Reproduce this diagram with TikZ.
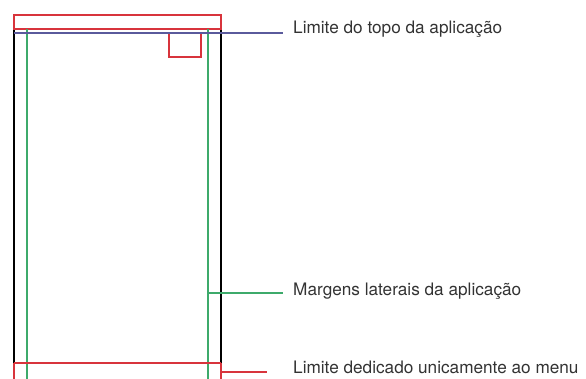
\documentclass[tikz,border=0pt]{standalone}
\usepackage{fontspec}
\setmainfont{TeX Gyre Heros}
\usepackage{tikz}
\usetikzlibrary{calc}

\definecolor{limred}{HTML}{D8343C}
\definecolor{limgreen}{HTML}{3DAA6B}
\definecolor{limblue}{HTML}{5A5A9C}
\definecolor{labelgray}{HTML}{333333}

\begin{document}
\begin{tikzpicture}[x=1pt, y=-1pt,
frame/.style={draw=black, line width=1.8pt},
redline/.style={draw=limred, line width=1.8pt},
greenline/.style={draw=limgreen, line width=1.8pt},
blueline/.style={draw=limblue, line width=1.8pt},
label/.style={anchor=base west, inner sep=0pt, text=labelgray, font=\fontsize{17.2}{20}\selectfont}]

\useasboundingbox (0,0) rectangle (586,379);

\coordinate (tl) at (14,29);
\coordinate (tr) at (221,29);
\coordinate (bl) at (14,363);
\coordinate (br) at (221,363);

% moldura do telefone
\draw[frame] (tl) -- (bl);
\draw[frame] (tr) -- (br);

% barra superior e icone
\draw[redline] (14,15) rectangle (221,29);
\draw[redline] (169,33) rectangle (201,57);

% margens laterais
\draw[greenline] (27,29) -- (27,379);
\draw[greenline] (208,29) -- (208,379);

% zona do menu
\draw[redline] (bl) -- (br);
\draw[redline] (bl) -- (14,379);
\draw[redline] (br) -- (221,379);

\node[label]	(top)	at (293,33.5)	{Limite do topo da aplicação};
\node[label]	(marg)	at (293,295)	{Margens laterais da aplicação};
\node[label]	(menu)	at (293,373)	{Limite dedicado unicamente ao menu};

\coordinate (topA) at (14,33);
\coordinate (margA) at (208,293);
\coordinate (menuA) at (221,372);

\draw[blueline, shorten >=10pt] (topA) -- (topA -| top.west);
\draw[greenline, shorten >=10.3pt] (margA) -- (margA -| marg.west);
\draw[redline, shorten >=26pt] (menuA) -- (menuA -| menu.west);

\end{tikzpicture}
\end{document}
